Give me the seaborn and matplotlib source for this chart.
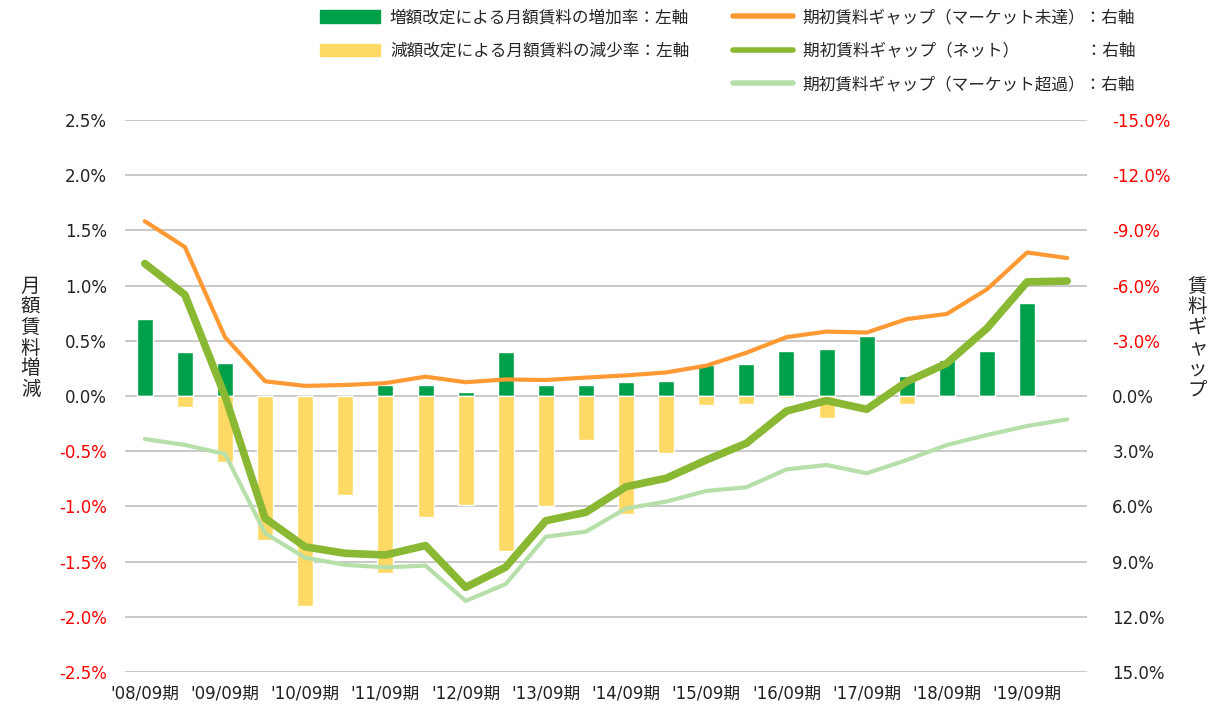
import numpy as np
import matplotlib
matplotlib.use("Agg")
import matplotlib.pyplot as plt
from matplotlib.patches import Patch
from matplotlib.lines import Line2D
import seaborn as sns

# ------------------------------
# Data (half-year periods)
# ------------------------------
periods = ["'08/09期", "'09/03期", "'09/09期", "'10/03期", "'10/09期", "'11/03期",
           "'11/09期", "'12/03期", "'12/09期", "'13/03期", "'13/09期", "'14/03期",
           "'14/09期", "'15/03期", "'15/09期", "'16/03期", "'16/09期", "'17/03期",
           "'17/09期", "'18/03期", "'18/09期", "'19/03期", "'19/09期", "'20/03期"]

# left axis (%) - last period has no bar data
increase = [0.70, 0.40, 0.30, 0.00, 0.00, 0.00, 0.10, 0.10, 0.04, 0.40, 0.10, 0.10,
            0.13, 0.14, 0.28, 0.29, 0.41, 0.43, 0.54, 0.18, 0.33, 0.41, 0.84, np.nan]
decrease = [0.00, -0.10, -0.60, -1.30, -1.90, -0.90, -1.60, -1.10, -0.99, -1.40, -1.00, -0.40,
            -1.07, -0.52, -0.08, -0.07, -0.02, -0.20, -0.01, -0.07, -0.01, 0.00, 0.00, np.nan]

# right axis (%)
gap_under = [-9.5, -8.1, -3.2, -0.8, -0.55, -0.6, -0.7, -1.05, -0.75, -0.9, -0.87, -1.0,
             -1.12, -1.28, -1.65, -2.35, -3.2, -3.5, -3.45, -4.18, -4.46, -5.8, -7.8, -7.5]
gap_net = [-7.2, -5.5, 0.0, 6.65, 8.2, 8.55, 8.64, 8.13, 10.4, 9.3, 6.78, 6.32,
           4.93, 4.47, 3.48, 2.57, 0.82, 0.25, 0.72, -0.78, -1.78, -3.68, -6.2, -6.25]
gap_over = [2.34, 2.66, 3.15, 7.46, 8.79, 9.18, 9.31, 9.22, 11.14, 10.22, 7.65, 7.37,
            6.11, 5.74, 5.16, 4.96, 3.99, 3.75, 4.2, 3.48, 2.66, 2.12, 1.63, 1.27]

left_ticks = [-2.5, -2.0, -1.5, -1.0, -0.5, 0.0, 0.5, 1.0, 1.5, 2.0, 2.5]
right_ticks = [-15, -12, -9, -6, -3, 0, 3, 6, 9, 12, 15]

C_INC = "#00A04A"
C_DEC = "#FFD966"
C_UNDER = "#FF9933"
C_NET = "#8AB833"
C_OVER = "#B7DFA9"

# ------------------------------
# Style
# ------------------------------
sns.set_style("white")
plt.rcParams['font.family'] = ['DejaVu Sans', 'Noto Sans CJK JP']

fig = plt.figure(figsize=(12.23, 7.04), dpi=100)
ax = fig.add_axes([0.102, 0.0455, 0.787, 0.784])

sns.barplot(x=periods, y=increase, color=C_INC, width=0.4, saturation=1, ax=ax)
sns.barplot(x=periods, y=decrease, color=C_DEC, width=0.4, saturation=1, ax=ax)

ax.set_xlim(-0.5, len(periods) - 0.5)
ax.set_ylim(-2.5, 2.5)
ax.set_yticks(left_ticks)
ax.set_yticklabels([f"{v:.1f}%" for v in left_ticks], fontsize=12)
for lab, v in zip(ax.get_yticklabels(), left_ticks):
    lab.set_color("red" if v < 0 else "#222222")
ax.set_xticks(range(0, len(periods), 2))
ax.set_xticklabels(periods[::2], fontsize=12, color="#222222")
ax.tick_params(axis='x', length=0, pad=9)
ax.tick_params(axis='y', length=0, pad=13)
ax.grid(axis='y', color="#C0C0C0", lw=1.2)
ax.set_axisbelow(True)
ax.set_xlabel("")
for s in ax.spines.values():
    s.set_visible(False)

# ------------------------------
# Right axis: rent gaps
# ------------------------------
ax2 = ax.twinx()
idx = np.arange(len(periods))
sns.lineplot(x=idx, y=gap_over, color=C_OVER, lw=3, ax=ax2, legend=False)
sns.lineplot(x=idx, y=gap_under, color=C_UNDER, lw=3, ax=ax2, legend=False)
sns.lineplot(x=idx, y=gap_net, color=C_NET, lw=5.5, ax=ax2, legend=False)
ax2.set_ylim(15, -15)
ax2.set_yticks(right_ticks)
ax2.set_yticklabels([f"{v:.1f}%" for v in right_ticks], fontsize=12)
for lab, v in zip(ax2.get_yticklabels(), right_ticks):
    lab.set_color("red" if v < 0 else "#222222")
ax2.tick_params(axis='y', length=0, pad=18)
for s in ax2.spines.values():
    s.set_visible(False)

# vertical axis titles
fig.text(0.025, 0.52, "\n".join("月額賃料増減"), fontsize=14, ha='center', va='center',
         linespacing=0.98, family=['Noto Sans CJK JP'])
fig.text(0.979, 0.52, "\n".join("賃料ギャップ"), fontsize=14, ha='center', va='center',
         linespacing=0.98, family=['Noto Sans CJK JP'])

# ------------------------------
# Legend
# ------------------------------
handles = [
    Patch(color=C_INC, label="増額改定による月額賃料の増加率：左軸"),
    Patch(color=C_DEC, label="減額改定による月額賃料の減少率：左軸"),
    Line2D([], [], alpha=0, label=" "),
    Line2D([], [], color=C_UNDER, lw=4, label="期初賃料ギャップ（マーケット未達）：右軸"),
    Line2D([], [], color=C_NET, lw=4, label="期初賃料ギャップ（ネット）　　　　：右軸"),
    Line2D([], [], color=C_OVER, lw=4, label="期初賃料ギャップ（マーケット超過）：右軸"),
]
leg = fig.legend(handles=handles, ncol=2, loc='upper left', bbox_to_anchor=(0.2616, 0.987),
                 frameon=False, handlelength=3.6, handleheight=0.8, handletextpad=0.6,
                 labelspacing=1.0, columnspacing=2.6, borderpad=0, borderaxespad=0,
                 prop={'family': ['Noto Sans CJK JP'], 'size': 12})

plt.savefig("out.png", dpi=100)
